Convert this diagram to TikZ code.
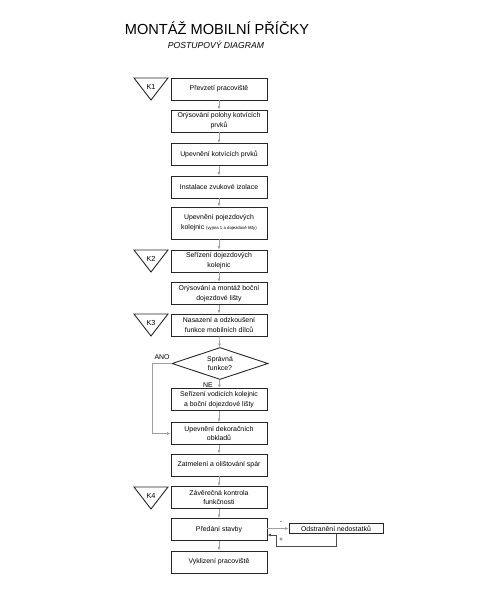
\documentclass[tikz,border=0pt]{standalone}
\usepackage{fontspec}
\setmainfont{Liberation Sans}
\usetikzlibrary{shapes.geometric,arrows.meta}

\tikzset{
  krok/.style={draw=black!85, line width=0.9pt, minimum width=96pt, minimum height=22pt,
    inner sep=1pt, align=center, font=\fontsize{6.9}{9.8}\selectfont},
  rozhod/.style={draw=black!85, line width=0.9pt, diamond, aspect=3, minimum width=96pt,
    minimum height=32pt, inner sep=0pt, align=center, font=\fontsize{6.9}{9.8}\selectfont},
  sipka/.style={draw=gray!75, line width=0.7pt, -{Latex[length=3.5pt,width=3pt]}},
  popis/.style={font=\fontsize{6.9}{8}\selectfont, inner sep=0pt}
}

\begin{document}
\begin{tikzpicture}[x=1pt,y=-1pt]
        \useasboundingbox (0,0) rectangle (480,600);

        % Nadpis
        \node (nadpis) at (217,28) {\fontsize{14.6}{16}\selectfont MONTÁŽ MOBILNÍ PŘÍČKY};
        \node (podnadpis) at (216,45) {\fontsize{8.6}{10}\selectfont\itshape POSTUPOVÝ DIAGRAM};

        % Kroky postupu
        \node[krok] (b1) at (219,89) {Převzetí pracoviště};
        \node[krok] (b2) at (219,121) {Orýsování polohy kotvících\\prvků};
        \node[krok] (b3) at (219,154.5) {Upevnění kotvících prvků};
        \node[krok] (b4) at (219,187) {Instalace zvukové izolace};
        \node[krok, minimum height=32pt] (b5) at (219,223) {Upevnění pojezdových\\kolejnic {\fontsize{4.3}{5}\selectfont (vyjma 1 a dojezdové lišty)}};
        \node[krok] (b6) at (219,261) {Seřízení dojezdových\\kolejnic};
        \node[krok] (b7) at (219,293.5) {Orýsování a montáž boční\\dojezdové lišty};
        \node[krok] (b8) at (219,325) {Nasazení a odzkoušení\\funkce mobilních dílců};
        \node[rozhod] (dia) at (220,363.5) {Správná\\funkce?};
        \node[krok] (b9) at (219,399.5) {Seřízení vodicích kolejnic\\a boční dojezdové lišty};
        \node[krok] (b10) at (219,433.5) {Upevnění dekoračních\\obkladů};
        \node[krok] (b11) at (219,465) {Zatmelení a olištování spár};
        \node[krok] (b12) at (219,497.5) {Závěrečná kontrola\\funkčnosti};
        \node[krok] (b13) at (219,529.5) {Předání stavby};
        \node[krok] (b14) at (219,562) {Vyklizení pracoviště};
        \node[krok, minimum width=94pt, minimum height=10pt, inner sep=0pt] (odst) at (336,528.5) {Odstranění nedostatků};

        % Kontrolni body
        \foreach \kb/\y in {K1/78, K2/250, K3/314, K4/487} {
            \draw[draw=black!85, line width=0.9pt] (134,\y) -- (168,\y) -- (151,{\y+22}) -- cycle;
            \node[popis, font=\fontsize{7.3}{8}\selectfont] (\kb) at (151,{\y+8.5}) {\kb};
        }

        % Sipky
        \draw[sipka] (b1) -- (b2);
        \draw[sipka] (b2) -- (b3);
        \draw[sipka] (b3) -- (b4);
        \draw[sipka] (b4) -- (b5);
        \draw[sipka] (b5) -- (b6);
        \draw[sipka] (b6) -- (b7);
        \draw[sipka] (b7) -- (b8);
        \draw[sipka] (b8) -- (dia);
        \draw[sipka] (dia) -- (b9);
        \draw[sipka] (b9) -- (b10);
        \draw[sipka] (b10) -- (b11);
        \draw[sipka] (b11) -- (b12);
        \draw[sipka] (b12) -- (b13);
        \draw[sipka] (b13) -- (b14);

        % Vetev ANO
        \coordinate (ano) at (152,363.5);
        \draw[sipka] (dia.west) -- (ano) |- (b10.west);
        \node[popis] (anotext) at (162,357) {ANO};
        \node[popis] (netext) at (208,385) {NE};

        % Odstraneni nedostatku
        \coordinate (zpet) at (276,546);
        \draw[sipka] (b13.east |- odst.west) -- (odst.west);
        \draw[sipka, draw=black!70] (odst.south) |- (zpet) |- ([yshift=-5.5pt]b13.east);
        \node[popis, font=\fontsize{6.5}{7}\selectfont] (minus) at (281,523) {-};
        \node[popis, font=\fontsize{6}{7}\selectfont] (plus) at (281,539.5) {+};
    \end{tikzpicture}
\end{document}
